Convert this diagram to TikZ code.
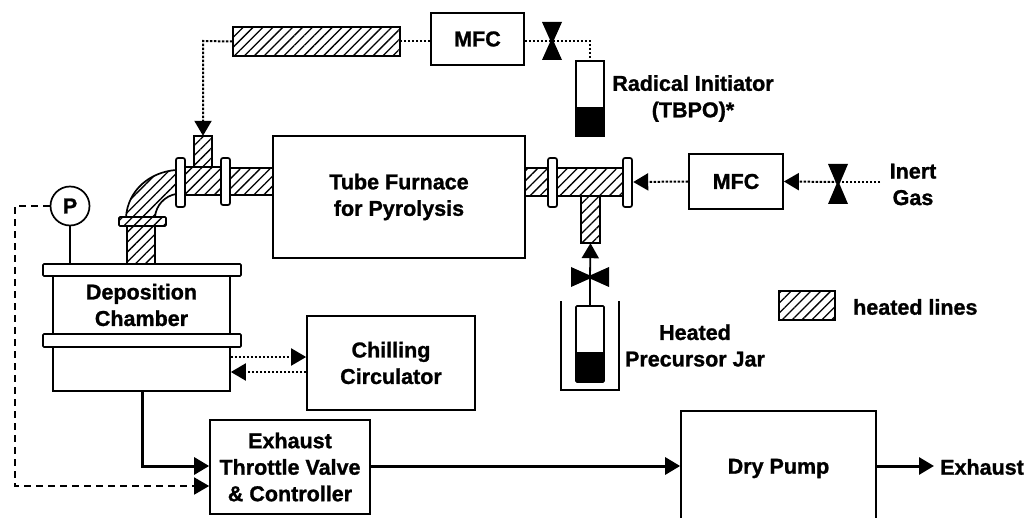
\documentclass[tikz,border=0pt]{standalone}
\usepackage{fontspec}
\setmainfont[BoldFeatures={FakeBold=1.2}]{Liberation Sans}
\usetikzlibrary{arrows.meta,patterns.meta,calc}
\tikzset{
  x=1pt,y=-1pt,
  lbl/.style={font=\bfseries\fontsize{21.5}{26.5}\selectfont,align=center,inner sep=0pt,text=black},
  boxn/.style={draw,line width=1.7pt,inner sep=0pt,fill=white,lbl},
  hatchn/.style={line width=1.7pt,draw,pattern={Lines[angle=45,distance=7pt,line width=1.3pt]}},
  dotline/.style={line width=2pt,dash pattern=on 2.5pt off 1.5pt},
  dashline/.style={line width=1.7pt,dash pattern=on 7pt off 5pt},
  solidline/.style={line width=1.8pt},
  heavy/.style={line width=3pt},
  tip/.style={-{Triangle[length=15pt,width=17pt]}},
  jar/.style={draw,line width=1.7pt,fill=white},
  vfill/.style={fill=black},
}
\newcommand{\vvalve}[4]{\fill[vfill] (#1-#3,#2-#4) -- (#1+#3,#2-#4) -- (#1+1.5,#2) -- (#1+#3,#2+#4) -- (#1-#3,#2+#4) -- (#1-1.5,#2) -- cycle;}
\newcommand{\hvalve}[4]{\fill[vfill] (#1-#3,#2-#4) -- (#1,#2-1.5) -- (#1+#3,#2-#4) -- (#1+#3,#2+#4) -- (#1,#2+1.5) -- (#1-#3,#2+#4) -- cycle;}
\begin{document}
\begin{tikzpicture}
\useasboundingbox (0,0) rectangle (1024,518);
\clip (0,0) rectangle (1024,518);
\fill[white] (0,0) rectangle (1024,518);

% coordinates for free ends and valves
\coordinate (v1) at (552,41);
\coordinate (v2) at (838,182);
\coordinate (v3) at (590,277);
\coordinate (inertend) at (880,182);
\coordinate (bend1) at (590,41);
\coordinate (bend2) at (203,41);
\coordinate (bendP) at (15,206);
\coordinate (bendE) at (15,486);
\coordinate (exhtip) at (934,466);

% boxes
\node[boxn,minimum width=252pt,minimum height=122pt] (furn) at (399,197) {Tube Furnace\\for Pyrolysis};
\node[boxn,minimum width=93pt,minimum height=52pt] (mfc1) at (477.5,39) {MFC};
\node[boxn,minimum width=94pt,minimum height=55pt] (mfc2) at (736,181.5) {MFC};
\node[boxn,minimum width=168pt,minimum height=94pt] (chill) at (391,363) {Chilling\\Circulator};
\node[boxn,minimum width=160pt,minimum height=94pt] (thr) at (290,467) {Exhaust\\Throttle Valve\\\& Controller};
\node[boxn,minimum width=195pt,minimum height=115pt] (pump) at (778.5,468.5) {Dry Pump};

% hatched pipes
\node[hatchn,minimum width=167pt,minimum height=29pt,inner sep=0pt] (hat) at (316.5,41.5) {};
\node[hatchn,minimum width=56pt,minimum height=29pt,inner sep=0pt] (leg) at (807,305.5) {};
\draw[hatchn] (230,168) rectangle (273,195);
\draw[hatchn] (194,167) rectangle (212,136);
\node[inner sep=0pt,minimum size=0pt] (stubtop) at (203,136) {};
\draw[hatchn] (185,167) rectangle (221,195);
\draw[hatchn] (176,170) .. controls (150,172) and (128,190) .. (126,217) -- (155,217) .. controls (156,205) and (165,196) .. (176,194) -- cycle;
\draw[hatchn] (127,226) rectangle (155,264);
\draw[hatchn] (525,168) rectangle (548,196);
\draw[hatchn] (557,168) rectangle (623,196);
\draw[hatchn] (581,196) rectangle (600,243);
\node[inner sep=0pt,minimum size=0pt] (stubbot) at (590.5,243) {};

% flanges
\draw[jar,rounded corners=2pt] (176,158) rectangle (185,207);
\draw[jar,rounded corners=2pt] (221,158) rectangle (230,205);
\draw[hatchn,rounded corners=1pt] (119,217) rectangle (166,226);
\draw[jar,rounded corners=2pt] (548,158) rectangle (557,207);
\draw[jar,rounded corners=2pt] (623,158) rectangle (632,207);
\node[inner sep=0pt,minimum size=0pt] (fl) at (633,182) {};

% chamber
\node[boxn,minimum width=177pt,minimum height=58pt] (cham) at (141.5,305) {Deposition\\Chamber};
\node[boxn,minimum width=177pt,minimum height=44pt] (chamlow) at (141.5,369) {};
\draw[jar,rounded corners=1pt] (43,264) rectangle (241,276);
\draw[jar,rounded corners=1pt] (43,334) rectangle (241,347);

% pressure gauge
\node[draw,circle,line width=1.7pt,minimum size=39pt,inner sep=0pt,lbl] (P) at (70,206) {P};
\draw[solidline] (P.south) -- (70,264);

% radical initiator jar
\draw[jar] (576,61) rectangle (604,136);
\fill[black] (576,107) rectangle (604,136);
\node[inner sep=0pt,minimum size=0pt] (jar1top) at (590,61) {};

% precursor jar
\draw[line width=1.7pt] (561,301) -- (561,390) -- (619,390) -- (619,301);
\draw[jar,rounded corners=1pt] (576,306) rectangle (604,382);
\fill[black] (576,352) rectangle (604,382);
\node[inner sep=0pt,minimum size=0pt] (jar2top) at (590,306) {};

% connectors
\draw[dotline] (mfc1.east |- v1) -- (v1) -- (bend1) -- (jar1top);
\draw[dotline] (mfc1.west |- hat) -- (hat.east);
\draw[dotline,tip] (hat.west) -- (bend2) -- (stubtop);
\draw[dotline,tip] (mfc2.west) -- (fl);
\draw[dotline,tip] (v2) -- (mfc2.east);
\draw[dotline] (inertend) -- (v2);
\draw[solidline,tip] (jar2top) -- (v3) -- (stubbot);
\draw[dotline,tip] (chamlow.east |- 0,357) -- (chill.west |- 0,357);
\draw[dotline,tip] (chill.west |- 0,372) -- (chamlow.east |- 0,372);
\draw[heavy,tip] (142,391) -- (142,466) -- (thr.west |- 0,466);
\draw[heavy,tip] (thr.east |- 0,466) -- (pump.west |- 0,466);
\node[lbl,anchor=west] (exh) at (940,467) {Exhaust};
\draw[heavy,tip] (pump.east |- exhtip) -- (exhtip);
\draw[dashline] (P.west) -- (bendP) -- (bendE) -- (200,486);
\draw[tip,line width=1.7pt] (196,486) -- (thr.west |- 0,486);

% valves
\vvalve{552}{41}{10}{19}
\vvalve{838}{184}{10}{20}
\hvalve{590}{277}{19}{10}

% labels
\node[lbl] (radlab) at (693,98.5) {Radical Initiator\\(TBPO)*};
\node[lbl] (inlab) at (913,184.5) {Inert\\Gas};
\node[lbl] (prelab) at (695,345.5) {Heated\\Precursor Jar};
\node[lbl,anchor=west] (leglab) at (853,307) {heated lines};
\end{tikzpicture}
\end{document}
